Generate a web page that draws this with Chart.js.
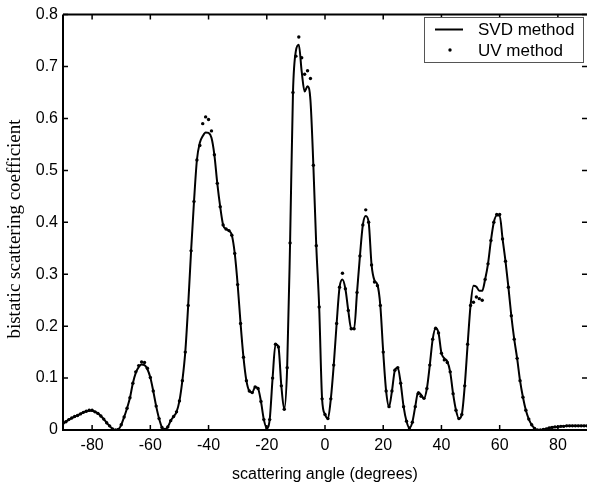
<!DOCTYPE html>
<html lang="en">
<head>
  <meta charset="UTF-8">
  <title>bistatic scattering coefficient</title>
  <script src="https://cdn.jsdelivr.net/npm/chart.js"></script>
  <style>
    body { margin: 0; padding: 0; background: #fff; }
    #chart { display: block; }
  </style>
</head>
<body>
  <canvas id="chart" width="591" height="486"></canvas>
  <script>
    // scattering angle, 1 degree steps from -90 to 90
    const angles = [];
    for (let a = -90; a <= 90; a++) angles.push(a);

    // SVD method (solid line)
    const svdValues = [
      0.013, 0.016, 0.020, 0.023, 0.026, 0.028, 0.031, 0.034, 0.036, 0.037, // -90..-81
      0.037, 0.035, 0.032, 0.027, 0.021, 0.014, 0.008, 0.002, 0.000, 0.001, // -80..-71
      0.010, 0.025, 0.042, 0.062, 0.090, 0.110, 0.121, 0.126, 0.125, 0.117, // -70..-61
      0.101, 0.075, 0.046, 0.022, 0.005, 0.001, 0.006, 0.018, 0.026, 0.035, // -60..-51
      0.056, 0.095, 0.150, 0.240, 0.345, 0.440, 0.520, 0.553, 0.566, 0.573, // -50..-41
      0.572, 0.563, 0.530, 0.475, 0.430, 0.395, 0.387, 0.384, 0.375, 0.340, // -40..-31
      0.280, 0.205, 0.140, 0.095, 0.075, 0.072, 0.083, 0.080, 0.055, 0.020, // -30..-21
      0.004, 0.020, 0.100, 0.165, 0.160, 0.085, 0.040, 0.120, 0.360, 0.650, // -20..-11
      0.730, 0.742, 0.690, 0.652, 0.662, 0.635, 0.510, 0.355, 0.237, 0.060, // -10..-1
      0.030, 0.022, 0.060, 0.125, 0.205, 0.275, 0.290, 0.272, 0.230, 0.195, // 0..9
      0.195, 0.265, 0.335, 0.395, 0.412, 0.400, 0.318, 0.288, 0.280, 0.240, // 10..19
      0.150, 0.075, 0.045, 0.075, 0.115, 0.120, 0.090, 0.045, 0.017, 0.004, // 20..29
      0.015, 0.045, 0.073, 0.068, 0.061, 0.080, 0.125, 0.175, 0.196, 0.187, // 30..39
      0.148, 0.138, 0.132, 0.112, 0.070, 0.038, 0.022, 0.030, 0.085, 0.165, // 40..49
      0.240, 0.278, 0.276, 0.268, 0.268, 0.290, 0.320, 0.365, 0.400, 0.413, // 50..59
      0.413, 0.368, 0.325, 0.275, 0.220, 0.175, 0.138, 0.095, 0.063, 0.038, // 60..69
      0.021, 0.010, 0.003, 0.000, 0.000, 0.001, 0.002, 0.004, 0.005, 0.006, // 70..79
      0.006, 0.007, 0.007, 0.008, 0.008, 0.008, 0.008, 0.008, 0.008, 0.008, // 80..89
      0.008                                                                 // 90
    ];

    // UV method (dots)
    const uvValues = [
      0.013, 0.016, 0.020, 0.023, 0.026, 0.028, 0.031, 0.034, 0.036, 0.038,
      0.038, 0.035, 0.032, 0.027, 0.021, 0.014, 0.008, 0.002, 0.000, 0.001,
      0.010, 0.025, 0.042, 0.062, 0.090, 0.112, 0.124, 0.131, 0.130, 0.119,
      0.101, 0.075, 0.046, 0.022, 0.005, 0.001, 0.006, 0.018, 0.026, 0.035,
      0.056, 0.095, 0.150, 0.240, 0.345, 0.440, 0.520, 0.548, 0.590, 0.603,
      0.598, 0.576, 0.530, 0.475, 0.430, 0.395, 0.387, 0.384, 0.375, 0.340,
      0.280, 0.205, 0.140, 0.095, 0.075, 0.072, 0.083, 0.080, 0.055, 0.020,
      0.004, 0.020, 0.100, 0.165, 0.160, 0.085, 0.040, 0.120, 0.360, 0.650,
      0.720, 0.757, 0.717, 0.685, 0.692, 0.677, 0.510, 0.355, 0.237, 0.060,
      0.030, 0.022, 0.060, 0.125, 0.205, 0.275, 0.302, 0.272, 0.230, 0.195,
      0.195, 0.265, 0.335, 0.395, 0.424, 0.400, 0.318, 0.285, 0.278, 0.240,
      0.150, 0.075, 0.045, 0.075, 0.115, 0.120, 0.090, 0.045, 0.017, 0.004,
      0.015, 0.045, 0.070, 0.065, 0.061, 0.080, 0.125, 0.175, 0.196, 0.187,
      0.148, 0.135, 0.130, 0.112, 0.070, 0.038, 0.022, 0.030, 0.085, 0.165,
      0.240, 0.246, 0.256, 0.253, 0.250, 0.290, 0.320, 0.365, 0.400, 0.415,
      0.415, 0.368, 0.325, 0.275, 0.220, 0.175, 0.138, 0.095, 0.063, 0.038,
      0.021, 0.010, 0.003, 0.000, 0.000, 0.001, 0.002, 0.004, 0.005, 0.006,
      0.006, 0.007, 0.007, 0.008, 0.008, 0.008, 0.008, 0.008, 0.008, 0.008,
      0.008
    ];

    const xTicks = [-80, -60, -40, -20, 0, 20, 40, 60, 80];
    const yTicks = [0, 0.1, 0.2, 0.3, 0.4, 0.5, 0.6, 0.7, 0.8];
    const seriesNames = ['SVD method', 'UV method'];

    const sansFont = 'Arial, "Liberation Sans", sans-serif';
    const serifFont = '"Times New Roman", "Liberation Serif", serif';

    // MATLAB style box, inward ticks, y title and legend
    const matlabAxes = {
      id: 'matlabAxes',
      afterDraw(chart) {
        const ctx = chart.ctx;
        const area = chart.chartArea;
        const xs = chart.scales.x, ys = chart.scales.y;
        const tl = 5;
        ctx.save();
        ctx.strokeStyle = '#000';
        ctx.lineWidth = 2;
        ctx.beginPath();
        ctx.moveTo(area.left, area.top);
        ctx.lineTo(area.right, area.top);
        ctx.moveTo(area.left, area.top);
        ctx.lineTo(area.left, area.bottom);
        ctx.lineTo(area.right, area.bottom);
        ctx.stroke();

        ctx.lineWidth = 1.5;
        ctx.beginPath();
        xTicks.forEach(v => {
          const px = xs.getPixelForValue(v);
          ctx.moveTo(px, area.bottom);
          ctx.lineTo(px, area.bottom - tl);
          ctx.moveTo(px, area.top);
          ctx.lineTo(px, area.top + tl);
        });
        yTicks.forEach(v => {
          const py = ys.getPixelForValue(v);
          ctx.moveTo(area.left, py);
          ctx.lineTo(area.left + tl, py);
          ctx.moveTo(area.right, py);
          ctx.lineTo(area.right - tl, py);
        });
        ctx.stroke();

        // y axis title
        ctx.fillStyle = '#000';
        ctx.font = '19px ' + serifFont;
        ctx.textAlign = 'center';
        ctx.textBaseline = 'middle';
        ctx.translate(15, 229);
        ctx.rotate(-Math.PI / 2);
        ctx.fillText('bistatic scattering coefficient', 0, 0);
        ctx.restore();

        // legend
        ctx.save();
        const lx = 424, ly = 17, lw = 159, lh = 45;
        ctx.fillStyle = '#fff';
        ctx.fillRect(lx, ly, lw, lh);
        ctx.strokeStyle = '#555';
        ctx.lineWidth = 1;
        ctx.strokeRect(lx + 0.5, ly + 0.5, lw, lh);
        ctx.strokeStyle = '#000';
        ctx.lineWidth = 2;
        ctx.beginPath();
        ctx.moveTo(435, 29.5);
        ctx.lineTo(463, 29.5);
        ctx.stroke();
        ctx.fillStyle = '#000';
        ctx.beginPath();
        ctx.arc(450, 50, 1.7, 0, Math.PI * 2);
        ctx.fill();
        ctx.font = '17px ' + sansFont;
        ctx.textAlign = 'left';
        ctx.textBaseline = 'alphabetic';
        ctx.fillText(seriesNames[0], 478, 35);
        ctx.fillText(seriesNames[1], 478, 56);
        ctx.restore();
      }
    };

    new Chart(document.getElementById('chart'), {
      type: 'line',
      data: {
        datasets: [
          {
            label: seriesNames[0],
            data: angles.map((a, i) => ({ x: a, y: svdValues[i] })),
            borderColor: '#000',
            borderWidth: 2,
            pointRadius: 0,
            cubicInterpolationMode: 'monotone',
            fill: false
          },
          {
            label: seriesNames[1],
            data: angles.map((a, i) => ({ x: a, y: uvValues[i] })),
            showLine: false,
            pointRadius: 1.7,
            pointBorderWidth: 0,
            pointBackgroundColor: '#000'
          }
        ]
      },
      options: {
        responsive: false,
        animation: false,
        layout: { padding: { top: 13, right: 0, left: 0, bottom: 0 } },
        plugins: {
          legend: { display: false },
          tooltip: { enabled: false }
        },
        scales: {
          x: {
            type: 'linear',
            min: -90,
            max: 90,
            grid: { display: false, drawTicks: false },
            border: { display: false },
            afterBuildTicks: s => { s.ticks = xTicks.map(v => ({ value: v })); },
            afterFit: s => { s.height = 56; },
            ticks: {
              color: '#000',
              font: { family: sansFont, size: 16 },
              padding: 6,
              maxRotation: 0,
              autoSkip: false
            },
            title: {
              display: true,
              text: 'scattering angle (degrees)',
              color: '#000',
              font: { family: sansFont, size: 16 },
              padding: { top: 0, bottom: 2 }
            }
          },
          y: {
            min: 0,
            max: 0.8,
            grid: { display: false, drawTicks: false },
            border: { display: false },
            afterBuildTicks: s => { s.ticks = yTicks.map(v => ({ value: v })); },
            afterFit: s => { s.width = 63; },
            ticks: {
              color: '#000',
              font: { family: sansFont, size: 16 },
              padding: 5,
              autoSkip: false,
              callback: v => (v === 0 ? '0' : v.toFixed(1))
            }
          }
        }
      },
      plugins: [matlabAxes]
    });
  </script>
</body>
</html>
